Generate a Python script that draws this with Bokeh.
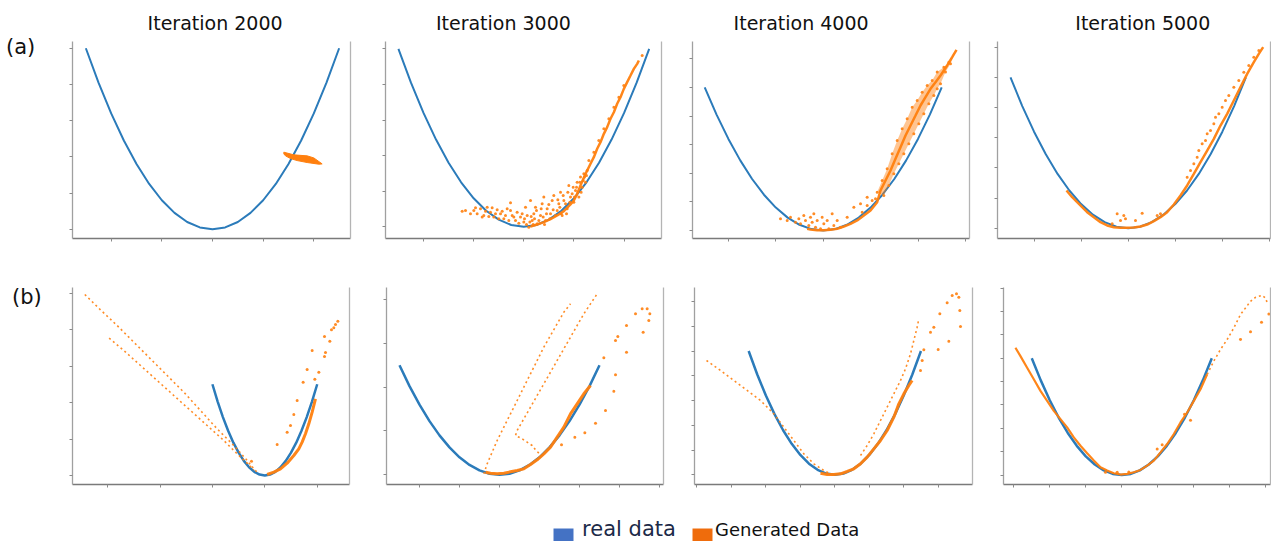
from bokeh.plotting import figure
from bokeh.layouts import column, row
from bokeh.models import Range1d, FixedTicker, LinearAxis
from bokeh.core.properties import value
from bokeh.embed import file_html
from bokeh.resources import INLINE

BLUE = "#2b7bba"
ORANGE = "#ff7f0e"
FONT = "DejaVu Sans"

titles = ["Iteration 2000", "Iteration 3000", "Iteration 4000", "Iteration 5000"]
row_labels = ["(a)", "(b)"]
legend_labels = ["real data", "Generated Data"]
legend_colors = ["#4472C4", "#EF6C0C"]

# ---- real data (same in every panel) ----
real_x = [-0.5, -0.45, -0.4, -0.35, -0.3, -0.25, -0.2, -0.15, -0.1, -0.05, 0.0,
          0.05, 0.1, 0.15, 0.2, 0.25, 0.3, 0.35, 0.4, 0.45, 0.5]
real_y = [0.25, 0.2025, 0.16, 0.1225, 0.09, 0.0625, 0.04, 0.0225, 0.01, 0.0025, 0.0,
          0.0025, 0.01, 0.0225, 0.04, 0.0625, 0.09, 0.1225, 0.16, 0.2025, 0.25]

# ---- (a) Iteration 2000: generated blob ----
a2000_x = [0.2816, 0.3211, 0.3737, 0.4, 0.4329, 0.4197, 0.3737, 0.3342, 0.3079, 0.2882, 0.2816]
a2000_y = [0.1064, 0.1027, 0.1013, 0.0985, 0.0902, 0.0898, 0.0921, 0.0948, 0.0976, 0.1013, 0.1040]

# ---- (a) Iteration 3000 ----
a3000_pts_x = [-0.2458, -0.1993, -0.1860, -0.1727, -0.1594, -0.1461, -0.1328, -0.1195, -0.1062, -0.0929,
               -0.0796, -0.0663, -0.0530, -0.0464, -0.0331, -0.0265, -0.0132, 0.0001, 0.0068, 0.0134,
               0.0201, 0.0267, 0.0334, 0.0400, 0.0467, 0.0533, 0.0666, 0.0732, 0.0799, 0.0865,
               0.0932, 0.1065, 0.1131, 0.1198, 0.1331, 0.1397, 0.1464, 0.1530, 0.1597, 0.1729,
               0.1796, 0.1862, 0.1995, 0.2062, 0.2128, 0.2195, 0.2261, 0.2328, 0.2394, 0.2461, 0.2527,
               0.2594, 0.2793, 0.2992, 0.3192, 0.3391, 0.3591, 0.3790, 0.3989, 0.4720,
               -0.2325, -0.2126, -0.1926, -0.1660, -0.1527, -0.1394, -0.1262, -0.1129, -0.0996, -0.0863,
               -0.0730, -0.0597, -0.0530, -0.0397, -0.0198, -0.0065, 0.0028, 0.0108, 0.0241, 0.0294,
               0.0374, 0.0427, 0.0506, 0.0600, 0.0693, 0.0772, 0.0826, 0.0905, 0.0998, 0.1038,
               0.1171, 0.1264, 0.1357, 0.1437, 0.1490, 0.1570, 0.1663, 0.1703, 0.1756, 0.1836,
               0.1929, 0.1969, 0.2022, 0.2102, 0.2155, 0.2235, 0.2288, 0.2368, 0.2421, 0.2500]
a3000_pts_y = [0.0220, 0.0229, 0.0183, 0.0253, 0.0159, 0.0276, 0.0206, 0.0136, 0.0239, 0.0183,
               0.0112, 0.0253, 0.0337, 0.0159, 0.0089, 0.0206, 0.0136, 0.0066, 0.0276, 0.0159,
               -0.0005, 0.0370, 0.0089, 0.0183, 0.0276, 0.0042, 0.0159, 0.0323, 0.0417, 0.0089,
               0.0253, 0.0183, 0.0370, 0.0440, 0.0229, 0.0323, 0.0487, 0.0159, 0.0370, 0.0253,
               0.0581, 0.0417, 0.0346, 0.0510, 0.0627, 0.0417, 0.0698, 0.0557, 0.0744, 0.0627, 0.0791,
               0.0932, 0.1049, 0.1213, 0.1376, 0.1517, 0.1681, 0.1821, 0.1985, 0.2406,
               0.0229, 0.0183, 0.0267, 0.0136, 0.0220, 0.0145, 0.0267, 0.0183, 0.0112, 0.0220,
               0.0159, 0.0089, 0.0229, 0.0136, 0.0051, 0.0183, 0.0112, 0.0033, 0.0066, 0.0145,
               0.0033, 0.0112, 0.0229, 0.0089, 0.0253, 0.0136, 0.0033, 0.0183, 0.0314, 0.0112,
               0.0239, 0.0159, 0.0379, 0.0276, 0.0183, 0.0440, 0.0323, 0.0183, 0.0487, 0.0346,
               0.0463, 0.0557, 0.0417, 0.0557, 0.0487, 0.0627, 0.0487, 0.0651, 0.0698, 0.0721]
a3000_band_x = [0.0267, 0.0533, 0.0799, 0.1065, 0.1331, 0.1597, 0.1862, 0.1995, 0.2128, 0.2261,
                0.2461, 0.2660, 0.2793, 0.2926, 0.3059, 0.3192, 0.3325, 0.3458, 0.3591, 0.3723,
                0.3856, 0.3989, 0.4122, 0.4255, 0.4388, 0.4521, 0.4588]
a3000_band_y = [0.0005, 0.0033, 0.0066, 0.0108, 0.0159, 0.0220, 0.0314, 0.0370, 0.0463, 0.0581,
                0.0744, 0.0885, 0.0978, 0.1096, 0.1189, 0.1306, 0.1400, 0.1517, 0.1610, 0.1728,
                0.1821, 0.1938, 0.2032, 0.2125, 0.2219, 0.2289, 0.2336]

# ---- (a) Iteration 4000 ----
a4000_pts_x = [-0.1802, -0.1520, -0.1380, -0.1169, -0.1028, -0.0958, -0.0817, -0.0747, -0.0606, -0.0536,
               -0.0466, -0.0395, -0.0325, -0.0255, -0.0114, -0.0044, 0.0027, 0.0167, 0.0238, 0.0378,
               0.0449, 0.0589, 0.0730, 0.1293, 0.1574, 0.1855, 0.2066, 0.2207, 0.1644, 0.1011, 0.1855,
               0.2277, 0.2488, 0.2699, 0.2910, 0.3121, 0.3332, 0.3543, 0.3754, 0.3965, 0.4176,
               0.4387, 0.4598, 0.4809, 0.5090, 0.5301,
               0.2558, 0.2769, 0.2980, 0.3191, 0.3402, 0.3613, 0.3824, 0.4035, 0.4246, 0.4457,
               0.4668, 0.4809, 0.4950, 0.5160, 0.5371]
a4000_pts_y = [0.0204, 0.0175, 0.0233, 0.0146, 0.0204, 0.0116, 0.0262, 0.0175, 0.0087, 0.0233,
               0.0146, 0.0291, 0.0058, 0.0175, 0.0029, 0.0233, 0.0116, 0.0175, 0.0029, 0.0291,
               0.0087, 0.0175, 0.0058, 0.0408, 0.0466, 0.0582, 0.0524, 0.0553, 0.0320, 0.0233, 0.0437,
               0.0670, 0.0874, 0.1078, 0.1340, 0.1573, 0.1776, 0.1951, 0.2155, 0.2272, 0.2417,
               0.2534, 0.2621, 0.2767, 0.2854, 0.2941,
               0.0612, 0.0786, 0.0990, 0.1165, 0.1340, 0.1514, 0.1689, 0.1864, 0.2039, 0.2213,
               0.2359, 0.2475, 0.2563, 0.2767, 0.2912]
a4000_band_x = [-0.0677, -0.0536, -0.0255, 0.0027, 0.0308, 0.0589, 0.0871, 0.1152, 0.1433, 0.1715,
                0.1996, 0.2277, 0.2418, 0.2629, 0.2840, 0.3051, 0.3262, 0.3473, 0.3684, 0.3895,
                0.4106, 0.4317, 0.4528, 0.4739, 0.4950, 0.5231, 0.5442, 0.5625]
a4000_band_y = [0.0029, 0.0017, 0.0006, 0.0006, 0.0012, 0.0029, 0.0070, 0.0116, 0.0175, 0.0262,
                0.0349, 0.0495, 0.0699, 0.0874, 0.1048, 0.1252, 0.1456, 0.1660, 0.1835, 0.2009,
                0.2184, 0.2330, 0.2475, 0.2592, 0.2708, 0.2883, 0.3029, 0.3157]
# outline of the dense spray region (left edge up, right edge down)
a4000_area_x = [0.2277, 0.2488, 0.2699, 0.2910, 0.3121, 0.3332, 0.3543, 0.3754, 0.3965, 0.4176,
                0.4387, 0.4598, 0.4809, 0.5090, 0.5301, 0.5625,
                0.5371, 0.5160, 0.4950, 0.4809, 0.4668, 0.4457, 0.4246, 0.4035, 0.3824, 0.3613,
                0.3402, 0.3191, 0.2980, 0.2769, 0.2558]
a4000_area_y = [0.0670, 0.0874, 0.1078, 0.1340, 0.1573, 0.1776, 0.1951, 0.2155, 0.2272, 0.2417,
                0.2534, 0.2621, 0.2767, 0.2854, 0.2941, 0.3157,
                0.2912, 0.2767, 0.2563, 0.2475, 0.2359, 0.2213, 0.2039, 0.1864, 0.1689, 0.1514,
                0.1340, 0.1165, 0.0990, 0.0786, 0.0612]

# ---- (a) Iteration 5000 ----
a5000_band_x = [-0.2621, -0.2380, -0.2168, -0.1956, -0.1743, -0.1460, -0.1177, -0.0894, -0.0610, -0.0327,
                -0.0044, 0.0239, 0.0523, 0.0806, 0.1089, 0.1372, 0.1655, 0.1939, 0.2222, 0.2505,
                0.2788, 0.3071, 0.3355, 0.3638, 0.3921, 0.4204, 0.4487, 0.4771, 0.5054, 0.5337,
                0.5549, 0.5733]
a5000_band_y = [0.0625, 0.0514, 0.0432, 0.0349, 0.0266, 0.0183, 0.0100, 0.0045, 0.0017, 0.0006,
                0.0006, 0.0012, 0.0028, 0.0061, 0.0117, 0.0183, 0.0266, 0.0393, 0.0542, 0.0708,
                0.0901, 0.1095, 0.1288, 0.1481, 0.1702, 0.1896, 0.2117, 0.2338, 0.2559, 0.2752,
                0.2890, 0.3001]
a5000_pts_x = [0.2505, 0.2647, 0.2788, 0.2930, 0.3001, 0.3142, 0.3284, 0.3355, 0.3496, 0.3638,
               0.3709, 0.3850, 0.3992, 0.4133, 0.4275, 0.4487, 0.4700, 0.4912, 0.5125, 0.5337, 0.5549,
               -0.0469, -0.0185, -0.0115, 0.0310, 0.0593, -0.0681, -0.0327, 0.1231, 0.1372]
a5000_pts_y = [0.0846, 0.0956, 0.1067, 0.1177, 0.1288, 0.1398, 0.1454, 0.1564, 0.1619, 0.1730,
               0.1840, 0.1896, 0.2006, 0.2117, 0.2200, 0.2338, 0.2448, 0.2586, 0.2697, 0.2835, 0.2945,
               0.0238, 0.0211, 0.0155, 0.0128, 0.0249, 0.0072, 0.0128, 0.0211, 0.0238]

# ---- (b) Iteration 2000 ----
b2000_line1_x = [-1.7176, -1.5681, -1.4091, -1.2500, -1.0910, -0.9319, -0.7729, -0.6139, -0.4548, -0.2958,
                 -0.1686, -0.1050, -0.0573]
b2000_line1_y = [0.4959, 0.4539, 0.4110, 0.3653, 0.3196, 0.2740, 0.2283, 0.1781, 0.1279, 0.0822,
                 0.0411, 0.0183, 0.0046]
b2000_line2_x = [-1.4854, -1.3454, -1.1864, -1.0274, -0.8683, -0.7093, -0.5503, -0.3912, -0.2640, -0.1686, -0.1050]
b2000_line2_y = [0.3763, 0.3425, 0.3014, 0.2603, 0.2192, 0.1781, 0.1370, 0.0959, 0.0594, 0.0338, 0.0155]
b2000_band_x = [0.0223, 0.0859, 0.1495, 0.2131, 0.2767, 0.3244, 0.3562, 0.3880, 0.4199, 0.4517, 0.4835]
b2000_band_y = [0.0027, 0.0091, 0.0183, 0.0338, 0.0548, 0.0731, 0.0913, 0.1142, 0.1416, 0.1735, 0.2100]
b2000_pts_x = [0.1177, 0.2131, 0.2449, 0.2767, 0.3085, 0.3658, 0.4039, 0.4517, 0.4771, 0.5153,
               0.5693, 0.5789, 0.5693, 0.6202, 0.6361, 0.6584, 0.6743, 0.6966, -0.1272]
b2000_pts_y = [0.0849, 0.1187, 0.1370, 0.1671, 0.2055, 0.2557, 0.2904, 0.3425, 0.2639, 0.2831,
               0.3260, 0.3370, 0.3808, 0.3680, 0.3991, 0.4046, 0.4137, 0.4228, 0.0393]

# ---- (b) Iteration 3000 ----
b3000_lineA_x = [-0.0783, -0.0617, -0.0367, -0.0117, 0.0217, 0.0550, 0.0883, 0.1217, 0.1550, 0.1883,
                 0.2217, 0.2550, 0.2883, 0.3217, 0.3550]
b3000_lineA_y = [0.0022, 0.0250, 0.0517, 0.0783, 0.1088, 0.1392, 0.1696, 0.2001, 0.2305, 0.2610,
                 0.2914, 0.3180, 0.3447, 0.3713, 0.3903]
b3000_lineB_x = [0.1967, 0.1800, 0.1633, 0.1383, 0.1133, 0.0800, 0.0883, 0.1217, 0.1550, 0.1883,
                 0.2217, 0.2550, 0.2883, 0.3217, 0.3550, 0.3883, 0.4217, 0.4550, 0.4883]
b3000_lineB_y = [0.0494, 0.0570, 0.0669, 0.0745, 0.0821, 0.0897, 0.1011, 0.1278, 0.1544, 0.1811,
                 0.2077, 0.2343, 0.2610, 0.2876, 0.3142, 0.3409, 0.3675, 0.3903, 0.4132]
b3000_band_x = [-0.0700, -0.0450, -0.0117, 0.0217, 0.0550, 0.0883, 0.1217, 0.1550, 0.1883, 0.2217,
                0.2550, 0.2883, 0.3217, 0.3550, 0.3883, 0.4217, 0.4550]
b3000_band_y = [0.0060, 0.0037, 0.0022, 0.0037, 0.0068, 0.0098, 0.0136, 0.0235, 0.0342, 0.0479,
                0.0631, 0.0859, 0.1088, 0.1392, 0.1620, 0.1849, 0.2039]
b3000_pts_x = [0.5217, 0.5800, 0.5917, 0.6350, 0.6800, 0.7133, 0.7383, 0.7517, 0.7467, 0.7183,
               0.6350, 0.5800, 0.5717, 0.5300, 0.4800, 0.4267, 0.3767, 0.3100]
b3000_pts_y = [0.2670, 0.3066, 0.3158, 0.3409, 0.3675, 0.3789, 0.3789, 0.3675, 0.3523, 0.3256,
               0.2800, 0.2282, 0.1909, 0.1468, 0.1179, 0.0958, 0.0859, 0.0684]

# ---- (b) Iteration 4000 ----
b4000_lineL_x = [-0.7446, -0.6634, -0.5860, -0.5086, -0.4312, -0.3538, -0.2958, -0.2378, -0.1797, -0.1217,
                 -0.0636, -0.0250]
b4000_lineL_y = [0.2309, 0.2107, 0.1905, 0.1703, 0.1501, 0.1231, 0.0962, 0.0693, 0.0423, 0.0222,
                 0.0087, 0.0020]
b4000_lineR_x = [0.1492, 0.1878, 0.2265, 0.2652, 0.3039, 0.3426, 0.3813, 0.4103, 0.4394, 0.4587, 0.4780, 0.4877]
b4000_lineR_y = [0.0390, 0.0592, 0.0827, 0.1097, 0.1366, 0.1635, 0.1905, 0.2140, 0.2443, 0.2713, 0.2982, 0.3150]
b4000_band_x = [-0.0830, -0.0443, -0.0056, 0.0331, 0.0718, 0.1105, 0.1492, 0.1878, 0.2265, 0.2652,
                0.3039, 0.3426, 0.3716, 0.4007, 0.4297, 0.4490]
b4000_band_y = [0.0033, 0.0006, 0.0006, 0.0020, 0.0067, 0.0121, 0.0222, 0.0356, 0.0524, 0.0693,
                0.0895, 0.1164, 0.1433, 0.1635, 0.1804, 0.1905]
b4000_pts_x = [0.5071, 0.5167, 0.5554, 0.5748, 0.6096, 0.6521, 0.6812, 0.7063, 0.7199, 0.7257,
               0.7295, 0.6618, 0.5999, 0.4974]
b4000_pts_y = [0.2309, 0.2524, 0.2881, 0.2982, 0.3251, 0.3473, 0.3622, 0.3655, 0.3588, 0.3319,
               0.2995, 0.2699, 0.2531, 0.2107]

# ---- (b) Iteration 5000 ----
b5000_band_x = [-0.5906, -0.5628, -0.5257, -0.4887, -0.4517, -0.4146, -0.3776, -0.3406, -0.3035, -0.2665,
                -0.2294, -0.1924, -0.1554, -0.1183, -0.0813, -0.0443, -0.0072, 0.0298, 0.0669, 0.1039,
                0.1409, 0.1780, 0.2150, 0.2520, 0.2891, 0.3261, 0.3631, 0.4002, 0.4372, 0.4743]
b5000_band_y = [0.2723, 0.2545, 0.2297, 0.2048, 0.1800, 0.1587, 0.1374, 0.1196, 0.1019, 0.0806,
                0.0628, 0.0465, 0.0309, 0.0167, 0.0096, 0.0039, 0.0011, 0.0025, 0.0060, 0.0110,
                0.0202, 0.0309, 0.0486, 0.0664, 0.0877, 0.1125, 0.1338, 0.1587, 0.1835, 0.2155]
b5000_tail_x = [0.4743, 0.5113, 0.5483, 0.5854, 0.6224, 0.6594, 0.6872, 0.7150, 0.7428, 0.7798, 0.7983, 0.8113]
b5000_tail_y = [0.2155, 0.2439, 0.2687, 0.2900, 0.3149, 0.3433, 0.3575, 0.3717, 0.3802, 0.3845, 0.3788, 0.3646]
b5000_pts_x = [0.7150, 0.7761, 0.8169, 0.6594, 0.1965, 0.2243, 0.3817, 0.3483, -0.0906, -0.0257, 0.0391]
b5000_pts_y = [0.3064, 0.3270, 0.3447, 0.2900, 0.0557, 0.0650, 0.1175, 0.1303, 0.0060, 0.0060, 0.0067]

# tick positions per panel
ticks_a_x = [[-0.4, -0.2, 0, 0.2, 0.4], [-0.4, -0.2, 0, 0.2, 0.4],
             [-0.4, -0.2, 0, 0.2, 0.4, 0.6], [-0.4, -0.2, 0, 0.2, 0.4, 0.6]]
ticks_a_y = [[0, 0.05, 0.1, 0.15, 0.2, 0.25], [0, 0.05, 0.1, 0.15, 0.2, 0.25],
             [0, 0.05, 0.1, 0.15, 0.2, 0.25, 0.3], [0, 0.05, 0.1, 0.15, 0.2, 0.25, 0.3]]
ticks_b_x = [[-1.5, -1.0, -0.5, 0, 0.5], [-0.4, -0.2, 0, 0.2, 0.4, 0.6, 0.8],
             [-0.8, -0.6, -0.4, -0.2, 0, 0.2, 0.4, 0.6], [-0.6, -0.4, -0.2, 0, 0.2, 0.4, 0.6, 0.8]]
ticks_b_y = [[0, 0.1, 0.2, 0.3, 0.4, 0.5], [0, 0.1, 0.2, 0.3, 0.4],
             [0, 0.05, 0.1, 0.15, 0.2, 0.25, 0.3, 0.35], [0, 0.05, 0.1, 0.15, 0.2, 0.25, 0.3, 0.35, 0.4]]


def panel(width, height, borders, xr, yr, xt, yt):
    bl, br, bt, bb = borders
    p = figure(width=width, height=height, x_range=Range1d(*xr), y_range=Range1d(*yr),
               title=None, output_backend="svg", toolbar_location=None,
               min_border_left=bl, min_border_right=br, min_border_top=bt, min_border_bottom=bb)
    p.xgrid.visible = False
    p.ygrid.visible = False
    p.outline_line_color = None
    for ax, ticks, col in ((p.xaxis[0], xt, "#7a7a7a"), (p.yaxis[0], yt, "#a0a0a0")):
        ax.ticker = FixedTicker(ticks=ticks, minor_ticks=[])
        ax.major_label_overrides = {t: "" for t in ticks}
        ax.major_label_text_font_size = "1px"
        ax.major_label_standoff = 0
        ax.major_tick_in = 0
        ax.major_tick_out = 3
        ax.axis_line_color = col
        ax.axis_line_width = 1.3
        ax.major_tick_line_color = "#8a8a8a"
        ax.minor_tick_line_color = None
    right = LinearAxis(ticker=FixedTicker(ticks=[], minor_ticks=[]))
    right.major_label_text_font_size = "1px"
    right.major_label_standoff = 0
    right.major_tick_in = 0
    right.major_tick_out = 0
    right.major_tick_line_color = None
    right.minor_tick_line_color = None
    right.axis_line_color = "#b4b4b4"
    right.axis_line_width = 1.3
    p.add_layout(right, "right")
    return p


def strip(width, height, bl=0, br=0):
    # blank canvas; frame in pixel-like units (y upwards)
    s = figure(width=width, height=height, x_range=Range1d(0, width - bl - br), y_range=Range1d(0, height),
               title=None, x_axis_location=None, y_axis_location=None, min_border=0,
               min_border_left=bl, min_border_right=br, min_border_top=0, min_border_bottom=0,
               output_backend="svg", toolbar_location=None)
    s.grid.visible = False
    s.outline_line_color = None
    return s


def pts(p, xs, ys):
    p.scatter(xs, ys, size=3, fill_color=ORANGE, line_color=None, fill_alpha=0.9)


def band(p, xs, ys, w=2.5):
    p.line(xs, ys, line_color=ORANGE, line_width=w, line_alpha=0.95)


def dotted(p, xs, ys):
    p.line(xs, ys, line_color=ORANGE, line_width=1.6, line_dash="2 3", line_alpha=0.9)


def text(p, xs, ys, ts, size, color="#111111"):
    p.text(x=xs, y=ys, text=ts, text_font=value(FONT), text_font_size=value(size),
           text_color=color, text_align="left", text_baseline="alphabetic")


# ---------------- left label strip (spans both rows, 505 px tall, 46 px wide) ----------------
lstrip = strip(46, 505)
text(lstrip, [5.5, 11.5], [459.0, 209.0], row_labels, "21px")

# ---------------- titles strip (33 px tall, frame from x=72 to 1270) ----------------
ts = strip(1225, 33, bl=26, br=1)
text(ts, [75.1, 363.4, 661.1, 1002.8], [10.5, 10.5, 10.5, 10.5], titles, "19px")

# ---------------- row (a) ----------------
p1 = panel(322, 229, (26, 18, 8, 24), (-0.5527, 0.5448), (-0.01285, 0.2593), ticks_a_x[0], ticks_a_y[0])
p1.line(real_x, real_y, line_color=BLUE, line_width=2)
p1.patch(a2000_x, a2000_y, fill_color=ORANGE, line_color=ORANGE, line_width=1)

p2 = panel(309, 229, (17, 16, 8, 24), (-0.5515, 0.5491), (-0.01643, 0.2603), ticks_a_x[1], ticks_a_y[1])
p2.line(real_x, real_y, line_color=BLUE, line_width=2)
band(p2, a3000_band_x, a3000_band_y, 2.5)
pts(p2, a3000_pts_x, a3000_pts_y)

p3 = panel(306, 229, (15, 14, 8, 24), (-0.5515, 0.6173), (-0.01398, 0.3302), ticks_a_x[2], ticks_a_y[2])
p3.line(real_x, real_y, line_color=BLUE, line_width=2)
p3.patch(a4000_area_x, a4000_area_y, fill_color=ORANGE, fill_alpha=0.45, line_color=None)
band(p3, a4000_band_x, a4000_band_y, 2.5)
pts(p3, a4000_pts_x, a4000_pts_y)

p4 = panel(288, 229, (14, 1, 8, 24), (-0.5552, 0.6045), (-0.01707, 0.3095), ticks_a_x[3], ticks_a_y[3])
p4.line(real_x, real_y, line_color=BLUE, line_width=2)
band(p4, a5000_band_x, a5000_band_y, 2.5)
pts(p4, a5000_pts_x, a5000_pts_y)

# ---------------- row (b) ----------------
p5 = panel(322, 243, (26, 19, 25, 21), (-1.835, 0.808), (-0.02466, 0.5151), ticks_b_x[0], ticks_b_y[0])
p5.line(real_x, real_y, line_color=BLUE, line_width=2.5)
dotted(p5, b2000_line1_x, b2000_line1_y)
dotted(p5, b2000_line2_x, b2000_line2_y)
band(p5, b2000_band_x, b2000_band_y, 3)
pts(p5, b2000_pts_x, b2000_pts_y)

p6 = panel(309, 243, (18, 14, 25, 21), (-0.565, 0.82), (-0.02215, 0.4276), ticks_b_x[1], ticks_b_y[1])
p6.line(real_x, real_y, line_color=BLUE, line_width=2.5)
dotted(p6, b3000_lineA_x, b3000_lineA_y)
dotted(p6, b3000_lineB_x, b3000_lineB_y)
band(p6, b3000_band_x, b3000_band_y, 3)
pts(p6, b3000_pts_x, b3000_pts_y)

p7 = panel(308, 243, (17, 13, 25, 21), (-0.8143, 0.7992), (-0.0196, 0.3783), ticks_b_x[2], ticks_b_y[2])
p7.line(real_x, real_y, line_color=BLUE, line_width=2.5)
dotted(p7, b4000_lineL_x, b4000_lineL_y)
dotted(p7, b4000_lineR_x, b4000_lineR_y)
band(p7, b4000_band_x, b4000_band_y, 3)
pts(p7, b4000_pts_x, b4000_pts_y)

p8 = panel(286, 243, (18, 1, 25, 21), (-0.657, 0.826), (-0.0202, 0.4012), ticks_b_x[3], ticks_b_y[3])
p8.line(real_x, real_y, line_color=BLUE, line_width=2.5)
band(p8, b5000_band_x, b5000_band_y, 2.2)
dotted(p8, b5000_tail_x, b5000_tail_y)
pts(p8, b5000_pts_x, b5000_pts_y)

# ---------------- legend strip (36 px tall) ----------------
ls = strip(1271, 36)
ls.quad(left=[553, 692], right=[573, 712], top=[13, 13], bottom=[-5, -5],
        fill_color=legend_colors, line_color=None)
text(ls, [581.6], [13.0], [legend_labels[0]], "21px", "#1c2a48")
text(ls, [714.6], [12.0], [legend_labels[1]], "18px", "#111111")

body = column(ts, row(p1, p2, p3, p4), row(p5, p6, p7, p8))
layout = column(row(lstrip, body), ls)
open("out.html", "w").write(file_html(layout, INLINE))
